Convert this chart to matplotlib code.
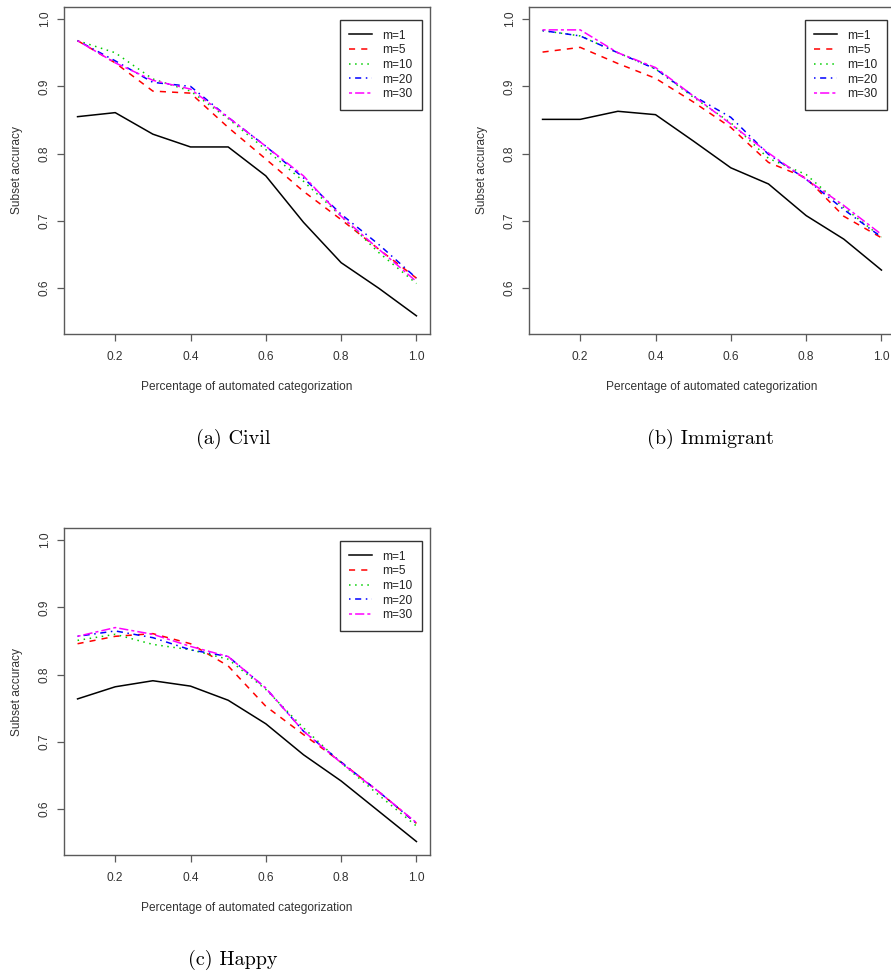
import numpy as np
import matplotlib
matplotlib.use("Agg")
import matplotlib.pyplot as plt

# percentage of automated categorization
pct = [0.1, 0.2, 0.3, 0.4, 0.5, 0.6, 0.7, 0.8, 0.9, 1.0]
labels = ["m=1", "m=5", "m=10", "m=20", "m=30"]

civil_m1 = [0.855, 0.861, 0.829, 0.810, 0.810, 0.767, 0.698, 0.638, 0.600, 0.559]
civil_m5 = [0.968, 0.935, 0.893, 0.890, 0.839, 0.792, 0.744, 0.702, 0.658, 0.615]
civil_m10 = [0.968, 0.950, 0.911, 0.893, 0.852, 0.806, 0.759, 0.707, 0.653, 0.607]
civil_m20 = [0.968, 0.938, 0.906, 0.900, 0.854, 0.811, 0.764, 0.710, 0.665, 0.615]
civil_m30 = [0.968, 0.935, 0.909, 0.896, 0.854, 0.811, 0.767, 0.707, 0.658, 0.610]

immig_m1 = [0.851, 0.851, 0.863, 0.858, 0.819, 0.779, 0.755, 0.708, 0.673, 0.627]
immig_m5 = [0.951, 0.958, 0.934, 0.912, 0.877, 0.839, 0.787, 0.764, 0.707, 0.675]
immig_m10 = [0.983, 0.975, 0.950, 0.926, 0.884, 0.846, 0.793, 0.769, 0.720, 0.676]
immig_m20 = [0.983, 0.975, 0.950, 0.926, 0.886, 0.854, 0.799, 0.762, 0.717, 0.676]
immig_m30 = [0.984, 0.984, 0.950, 0.928, 0.886, 0.844, 0.801, 0.762, 0.723, 0.680]

happy_m1 = [0.764, 0.782, 0.791, 0.783, 0.762, 0.727, 0.681, 0.642, 0.597, 0.552]
happy_m5 = [0.846, 0.857, 0.861, 0.846, 0.813, 0.753, 0.711, 0.670, 0.626, 0.579]
happy_m10 = [0.851, 0.860, 0.845, 0.837, 0.823, 0.778, 0.721, 0.669, 0.621, 0.575]
happy_m20 = [0.857, 0.865, 0.855, 0.837, 0.827, 0.780, 0.716, 0.670, 0.626, 0.579]
happy_m30 = [0.857, 0.870, 0.860, 0.842, 0.827, 0.780, 0.716, 0.669, 0.626, 0.580]

colors = ["black", "#FF0000", "#00CD00", "#0000FF", "#FF00FF"]
styles = ["-", (0, (4, 4)), (0, (1, 3)), (0, (1, 3, 4, 3)), (0, (2, 2, 6, 2))]

plt.rcParams["font.family"] = ["Liberation Sans", "DejaVu Sans"]

W, H = 891, 976
fig = plt.figure(figsize=(W / 100, H / 100), dpi=100)

axw, axh = 366, 327
boxcol = "#5a5a5a"


def panel(left, top, series, caption, capx, capy):
    ax = fig.add_axes([left / W, 1 - (top + axh) / H, axw / W, axh / H])
    for ys, c, ls, lab in zip(series, colors, styles, labels):
        ax.plot(pct, ys, color=c, linestyle=ls, lw=1.1, label=lab)
    ax.set_xlim(0.064, 1.036)
    ax.set_ylim(0.532, 1.018)
    ax.set_xticks([0.2, 0.4, 0.6, 0.8, 1.0])
    ax.set_yticks([0.6, 0.7, 0.8, 0.9, 1.0])
    ax.set_xticklabels(["0.2", "0.4", "0.6", "0.8", "1.0"])
    ax.set_yticklabels(["0.6", "0.7", "0.8", "0.9", "1.0"])
    for s in ax.spines.values():
        s.set_color(boxcol)
        s.set_linewidth(1.0)
    ax.tick_params(direction="out", length=5, width=0.9, color=boxcol,
                   labelsize=8.6, labelcolor="#333333")
    ax.tick_params(axis="x", pad=7)
    ax.tick_params(axis="y", pad=4.5, labelrotation=90)
    for t in ax.get_yticklabels():
        t.set_va("center")
    ax.set_xlabel("Percentage of automated categorization", fontsize=8.6,
                  color="#333333", va="center")
    ax.set_ylabel("Subset accuracy", fontsize=8.6, color="#333333", va="center")
    ax.xaxis.set_label_coords(0.5, -53 / axh)
    ax.yaxis.set_label_coords(-47 / axw, 0.5)
    leg = ax.legend(loc="upper right", bbox_to_anchor=(0.978, 0.960),
                    borderaxespad=0, fontsize=8.6, handlelength=1.9,
                    handletextpad=0.85, labelspacing=0.22, borderpad=0.8,
                    fancybox=False, framealpha=1, labelcolor="#222222")
    leg.get_frame().set_edgecolor("#333333")
    leg.get_frame().set_linewidth(1.0)
    fig.text(capx / W, 1 - capy / H, caption, fontsize=14.5, family="cmr10",
             ha="center", va="center")
    return ax


panel(64, 7, [civil_m1, civil_m5, civil_m10, civil_m20, civil_m30],
      "(a) Civil", 233, 439)
panel(529, 7, [immig_m1, immig_m5, immig_m10, immig_m20, immig_m30],
      "(b) Immigrant", 710, 439)
panel(64, 528, [happy_m1, happy_m5, happy_m10, happy_m20, happy_m30],
      "(c) Happy", 233, 960)

fig.savefig("out.png", dpi=100)
